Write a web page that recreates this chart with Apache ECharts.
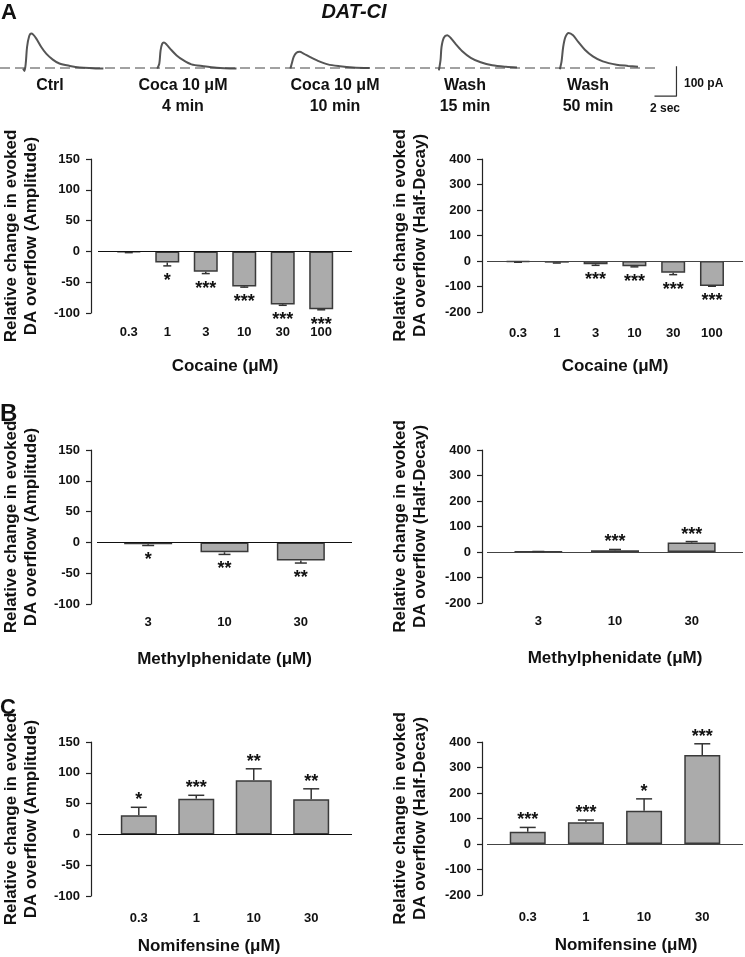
<!DOCTYPE html>
<html>
<head>
<meta charset="utf-8">
<script src="https://cdn.jsdelivr.net/npm/echarts@6/dist/echarts.min.js"></script>
<style>
  html, body { margin: 0; padding: 0; background: #fff; }
  #chart { width: 745px; height: 957px; }
</style>
</head>
<body>
<div id="chart"></div>
<script>
(function () {
  const FONT = "'Liberation Sans', Arial, sans-serif";

  // ---- example traces (s from trace start, pA) ----
  const traceStarts = [2.1, 14.3, 26.4, 39.9, 50.9];
  const traceCtrl = [[0, -2], [0.12, -10], [0.24, 15], [0.36, 70], [0.55, 106], [0.75, 115], [0.9, 112], [1.2, 98], [1.65, 70], [2.1, 48], [2.7, 28], [3.3, 15], [4.25, 7], [5.15, 2], [7.3, -2]];
  const traceCoca4 = [[0, -2], [0.18, 14], [0.3, 59], [0.45, 81], [0.6, 85], [0.85, 78], [1.3, 59], [1.76, 42], [2.36, 26], [3.1, 12], [4.2, 6], [5.4, 1], [7.2, -2]];
  const traceCoca10 = [[0, -2], [0.12, 14], [0.3, 37], [0.55, 51], [0.85, 54], [1.2, 48], [1.76, 37], [2.5, 24], [3.4, 12], [4.5, 6], [5.7, 2], [7.2, 0]];
  const traceWash15 = [[0, -8], [0.15, 26], [0.24, 70], [0.45, 101], [0.76, 109], [1.06, 101], [1.5, 81], [2.1, 57], [2.9, 34], [3.8, 19], [4.85, 9], [6.1, 4], [7.1, 2]];
  const traceWash50 = [[0, -4], [0.15, 21], [0.3, 70], [0.5, 103], [0.8, 117], [1.2, 109], [1.67, 87], [2.27, 61], [3.0, 39], [3.9, 22], [5.15, 11], [6.2, 7], [7.1, 4]];
  const baselineEnd = 59.7;
  const scaleBarT = 61.5;
  const scaleBarSec = 2;
  const scaleBarPA = 100;
  const scaleBarLow = -94;

  // ---- bar data ----
  const doseCocaine = ["0.3", "1", "3", "10", "30", "100"];
  const ampCocaine = [-1.5, -18, -33, -57, -86, -94];
  const ampCocaineErr = [0.5, 5.5, 3, 1, 1.5, 0.8];
  const ampCocaineSig = ["", "*", "***", "***", "***", "***"];
  const decayCocaine = [-4, -6.5, -13, -21, -46, -98];
  const decayCocaineErr = [1, 1.5, 4, 2, 7.5, 1];
  const decayCocaineSig = ["", "", "***", "***", "***", "***"];

  const doseMph = ["3", "10", "30"];
  const ampMph = [-3, -16, -29.5];
  const ampMphErr = [2, 3.5, 4];
  const ampMphSig = ["*", "**", "**"];
  const decayMph = [1, 7, 37];
  const decayMphErr = [1, 3, 4];
  const decayMphSig = ["", "***", "***"];

  const doseNomi = ["0.3", "1", "10", "30"];
  const ampNomi = [31, 58, 88, 57];
  const ampNomiErr = [13, 5.5, 18.5, 17];
  const ampNomiSig = ["*", "***", "**", "**"];
  const decayNomi = [48, 85, 130, 349];
  const decayNomiErr = [17, 9, 47, 44];
  const decayNomiSig = ["***", "***", "*", "***"];

  const ampTitle = "Relative change in evoked\nDA overflow (Amplitude)";
  const decayTitle = "Relative change in evoked\nDA overflow (Half-Decay)";

  const panels = [
    { cats: doseCocaine, vals: ampCocaine, errs: ampCocaineErr, sig: ampCocaineSig, xName: "Cocaine (μM)", yName: ampTitle,
      ymin: -100, ymax: 150, yint: 50, left: 95, right: 393, top: 159, bottom: 644, yOff: 7, m: 0.8, barW: 24, cap: 8, lblM: 13, nameGap: 45, shift: 0, yGap: 50, zero: "#111" },
    { cats: doseCocaine, vals: decayCocaine, errs: decayCocaineErr, sig: decayCocaineSig, xName: "Cocaine (μM)", yName: decayTitle,
      ymin: -200, ymax: 400, yint: 100, left: 487, right: 2, top: 159, bottom: 645, yOff: 5, m: 0.8, barW: 24, cap: 8, lblM: 15, nameGap: 46, shift: 0, yGap: 52, zero: "#444" },
    { cats: doseMph, vals: ampMph, errs: ampMphErr, sig: ampMphSig, xName: "Methylphenidate (μM)", yName: ampTitle,
      ymin: -100, ymax: 150, yint: 50, left: 95, right: 393, top: 450, bottom: 353, yOff: 6, m: 0.67, barW: 48, cap: 12, lblM: 12, nameGap: 47, shift: 0, yGap: 50, zero: "#111" },
    { cats: doseMph, vals: decayMph, errs: decayMphErr, sig: decayMphSig, xName: "Methylphenidate (μM)", yName: decayTitle,
      ymin: -200, ymax: 400, yint: 100, left: 487, right: 2, top: 450, bottom: 354, yOff: 5, m: 0.67, barW: 48, cap: 12, lblM: 12, nameGap: 47, shift: 0, yGap: 52, zero: "#444" },
    { cats: doseNomi, vals: ampNomi, errs: ampNomiErr, sig: ampNomiSig, xName: "Nomifensine (μM)", yName: ampTitle,
      ymin: -100, ymax: 150, yint: 50, left: 94, right: 393, top: 742, bottom: 61, yOff: 7, m: 0.71, barW: 36, cap: 16, lblM: 16, nameGap: 42, shift: -16, yGap: 50, zero: "#111" },
    { cats: doseNomi, vals: decayNomi, errs: decayNomiErr, sig: decayNomiSig, xName: "Nomifensine (μM)", yName: decayTitle,
      ymin: -200, ymax: 400, yint: 100, left: 487, right: 2, top: 742, bottom: 62, yOff: 5, m: 0.7, barW: 36, cap: 16, lblM: 16, nameGap: 42, shift: 11, yGap: 52, zero: "#444" },
  ];

  // trace grid: 11 px per s, 30 px per 100 pA, 0 pA at y=68
  const grids = [{ left: 0, right: 0, top: 23, bottom: 859 }];
  const xAxes = [{ gridIndex: 0, type: "value", min: 0, max: 67.73, show: false }];
  const yAxes = [{ gridIndex: 0, type: "value", min: -100, max: 150, show: false }];
  const series = [];

  // traces
  [traceCtrl, traceCoca4, traceCoca10, traceWash15, traceWash50].forEach((tr, i) => {
    series.push({
      type: "line", xAxisIndex: 0, yAxisIndex: 0, smooth: 0.3, showSymbol: false, silent: true,
      data: tr.map((p) => [traceStarts[i] + p[0], p[1]]),
      lineStyle: { color: "#555", width: 2 },
    });
  });
  series.push({
    type: "line", xAxisIndex: 0, yAxisIndex: 0, showSymbol: false, silent: true,
    data: [[0, 0], [baselineEnd, 0]],
    lineStyle: { color: "#444", width: 1, type: [10, 5] },
  });
  series.push({
    type: "line", xAxisIndex: 0, yAxisIndex: 0, showSymbol: false, silent: true,
    data: [[scaleBarT - scaleBarSec, scaleBarLow], [scaleBarT, scaleBarLow], [scaleBarT, scaleBarLow + scaleBarPA]],
    lineStyle: { color: "#333", width: 1.2 },
  });

  function errRenderer(sig, cap) {
    return function (params, api) {
      const i = api.value(0), v = api.value(1), e = api.value(2);
      const s = v < 0 ? -1 : 1;
      const p0 = api.coord([i, v]);
      const p1 = api.coord([i, v + s * e]);
      const st = { stroke: "#333", lineWidth: 1.5 };
      const children = [
        { type: "line", shape: { x1: p0[0], y1: p0[1], x2: p1[0], y2: p1[1] }, style: st },
        { type: "line", shape: { x1: p1[0] - cap / 2, y1: p1[1], x2: p1[0] + cap / 2, y2: p1[1] }, style: st },
      ];
      const t = sig[params.dataIndex];
      if (t) {
        children.push({
          type: "text", x: p1[0], y: p1[1] + (s < 0 ? 15 : -7),
          style: { text: t, align: "center", verticalAlign: "middle", font: "bold 18px " + FONT, fill: "#111" },
        });
      }
      return { type: "group", children: children };
    };
  }

  panels.forEach((p, k) => {
    const gi = k + 1;
    grids.push({ left: p.left, right: p.right, top: p.top, bottom: p.bottom });
    xAxes.push({
      gridIndex: gi, type: "value", min: -p.m, max: p.cats.length - 1 + p.m,
      axisLine: { show: false, onZero: false }, axisTick: { show: false }, splitLine: { show: false },
      axisLabel: {
        customValues: p.cats.map((c, i) => i),
        formatter: (v) => p.cats[Math.round(v)],
        margin: p.lblM, fontSize: 13, fontWeight: "bold", color: "#111", fontFamily: FONT,
      },
      name: p.xName, nameLocation: "middle", nameGap: p.nameGap,
      nameTextStyle: {
        fontSize: 17, fontWeight: "bold", color: "#111", fontFamily: FONT,
        padding: p.shift < 0 ? [0, -2 * p.shift, 0, 0] : [0, 0, 0, 2 * p.shift],
      },
    });
    yAxes.push({
      gridIndex: gi, type: "value", min: p.ymin, max: p.ymax, interval: p.yint, offset: p.yOff,
      axisLine: { show: true, onZero: false, lineStyle: { color: "#222", width: 1.2 } },
      axisTick: { show: true, length: 5, lineStyle: { color: "#222", width: 1.2 } },
      splitLine: { show: false },
      axisLabel: { fontSize: 13, fontWeight: "bold", color: "#111", margin: 11, fontFamily: FONT },
      name: p.yName, nameLocation: "middle", nameRotate: 90, nameGap: p.yGap,
      nameTextStyle: { fontSize: 17, fontWeight: "bold", color: "#111", lineHeight: 20, fontFamily: FONT },
    });
    series.push({
      type: "bar", xAxisIndex: gi, yAxisIndex: gi, barWidth: p.barW, silent: true,
      data: p.vals.map((v, i) => [i, v]),
      itemStyle: { color: "#ababab", borderColor: "#3a3a3a", borderWidth: 1.5 },
      markLine: {
        silent: true, symbol: ["none", "none"], label: { show: false },
        lineStyle: { color: p.zero, width: 1.2, type: "solid" },
        data: [{ yAxis: 0 }],
      },
    });
    series.push({
      type: "custom", xAxisIndex: gi, yAxisIndex: gi, silent: true, z: 5,
      data: p.vals.map((v, i) => [i, v, p.errs[i]]),
      encode: { x: 0, y: 1 },
      renderItem: errRenderer(p.sig, p.cap),
    });
  });

  function txt(text, x, y, size, opts) {
    const o = opts || {};
    return {
      type: "text", x: x, y: y, silent: true,
      style: {
        text: text, font: (o.italic ? "italic " : "") + "bold " + size + "px " + FONT,
        fill: "#111", align: o.align || "left", textAlign: o.align || "left",
        verticalAlign: o.va || "top", textVerticalAlign: o.va || "top", lineHeight: o.lh || size + 4,
      },
    };
  }

  const graphic = [
    txt("A", 1, 0, 22),
    txt("B", 0, 400, 24),
    txt("C", 0, 695, 22),
    txt("DAT-CI", 354, 0, 20, { italic: true, align: "center" }),
    txt("Ctrl", 50, 75, 16, { align: "center", lh: 21 }),
    txt("Coca 10 μM\n4 min", 183, 75, 16, { align: "center", lh: 21 }),
    txt("Coca 10 μM\n10 min", 335, 75, 16, { align: "center", lh: 21 }),
    txt("Wash\n15 min", 465, 75, 16, { align: "center", lh: 21 }),
    txt("Wash\n50 min", 588, 75, 16, { align: "center", lh: 21 }),
    txt("100 pA", 684, 76, 12),
    txt("2 sec", 650, 101, 12),
  ];

  const chart = echarts.init(document.getElementById("chart"));
  chart.setOption({
    animation: false,
    backgroundColor: "#fff",
    textStyle: { fontFamily: FONT },
    grid: grids,
    xAxis: xAxes,
    yAxis: yAxes,
    series: series,
    graphic: graphic,
  });

  window.addEventListener("resize", () => {
    chart.resize();
  });
})();
</script>
</body>
</html>
